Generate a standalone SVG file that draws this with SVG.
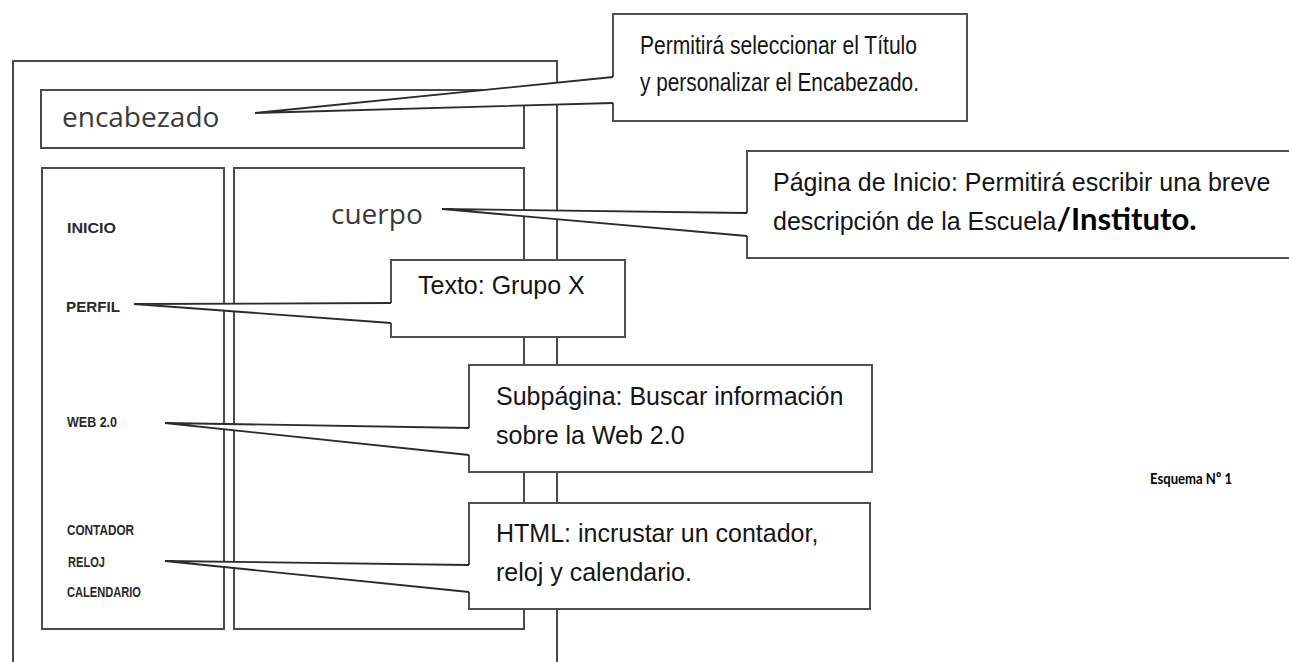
<svg xmlns="http://www.w3.org/2000/svg" width="1289" height="662" viewBox="0 0 1289 662">
<style>
.frame{fill:#fff;stroke:#4a4a4a;stroke-width:2}
.box{fill:#fff;stroke:#505050;stroke-width:2}
.wfill{fill:#fff;stroke:none}
.wline{fill:none;stroke:#2b2b2b;stroke-width:1.8;stroke-linejoin:miter}
.ct{font-family:"Liberation Sans",Arial,sans-serif;font-size:25px;fill:#151515}
.lbl{font-family:"Liberation Sans",Arial,sans-serif;font-size:15px;font-weight:bold;fill:#2a2a2a}
.big{font-family:"Open Sans",sans-serif;font-size:28px;fill:#3a3a3a}
.bold{font-family:Lato,"Open Sans",sans-serif;font-weight:bold;fill:#000}
</style>
<rect width="1289" height="662" fill="#fff"/>
<g id="pagina">
<path class="frame" d="M13 700 V61 H557 V700"/>
</g>
<g id="encabezado">
<rect class="frame" x="41" y="90" width="483" height="58"/>
<text class="big" x="62" y="127">encabezado</text>
</g>
<g id="menu">
<rect class="frame" x="42" y="168" width="182" height="461"/>
<text class="lbl" x="67" y="233" textLength="49" lengthAdjust="spacingAndGlyphs">INICIO</text>
<text class="lbl" x="66" y="312" textLength="54" lengthAdjust="spacingAndGlyphs">PERFIL</text>
<text class="lbl" x="67" y="427" textLength="50" lengthAdjust="spacingAndGlyphs">WEB 2.0</text>
<text class="lbl" x="67" y="535" textLength="67" lengthAdjust="spacingAndGlyphs">CONTADOR</text>
<text class="lbl" x="68" y="567" textLength="37" lengthAdjust="spacingAndGlyphs">RELOJ</text>
<text class="lbl" x="67" y="597" textLength="74" lengthAdjust="spacingAndGlyphs">CALENDARIO</text>
</g>
<g id="cuerpo">
<rect class="frame" x="234" y="168" width="290" height="461"/>
<text class="big" x="331" y="224">cuerpo</text>
</g>
<g id="nota-encabezado">
<rect class="box" x="613" y="14" width="354" height="107"/>
<text class="ct" x="640" y="54" textLength="277" lengthAdjust="spacingAndGlyphs">Permitirá seleccionar el Título</text>
<text class="ct" x="640" y="91" textLength="279" lengthAdjust="spacingAndGlyphs">y personalizar el Encabezado.</text>
</g>
<g id="nota-cuerpo">
<rect class="box" x="747" y="151" width="600" height="107"/>
<text class="ct" x="773" y="191">Página de Inicio: Permitirá escribir una breve</text>
<text class="ct" x="773" y="230">descripción de la Escuela<tspan class="bold" font-size="31">/Instituto.</tspan></text>
</g>
<g id="nota-perfil">
<rect class="box" x="391" y="260" width="234" height="77"/>
<text class="ct" x="418" y="294">Texto: Grupo X</text>
</g>
<g id="nota-web">
<rect class="box" x="469" y="365" width="403" height="107"/>
<text class="ct" x="496" y="405">Subpágina: Buscar información</text>
<text class="ct" x="496" y="444">sobre la Web 2.0</text>
</g>
<g id="nota-html">
<rect class="box" x="469" y="503" width="401" height="106"/>
<text class="ct" x="496" y="542">HTML: incrustar un contador,</text>
<text class="ct" x="496" y="581">reloj y calendario.</text>
</g>
<g id="conectores">
<polygon class="wfill" points="255,113 613,77 616,77 616,103 613,103"/>
<polyline class="wline" points="613,77 255,113 613,103"/>
<polygon class="wfill" points="442,209 747,213 750,213 750,236 747,236"/>
<polyline class="wline" points="747,213 442,209 747,236"/>
<polygon class="wfill" points="134,304 391,303 394,303 394,323 391,323"/>
<polyline class="wline" points="391,303 134,304 391,323"/>
<polygon class="wfill" points="165,423 469,428 472,428 472,455 469,455"/>
<polyline class="wline" points="469,428 165,423 469,455"/>
<polygon class="wfill" points="165,561 469,565 472,565 472,592 469,592"/>
<polyline class="wline" points="469,565 165,561 469,592"/>
</g>
<text class="bold" x="1150" y="484" font-size="16" textLength="82" lengthAdjust="spacingAndGlyphs">Esquema Nº 1</text>
</svg>
